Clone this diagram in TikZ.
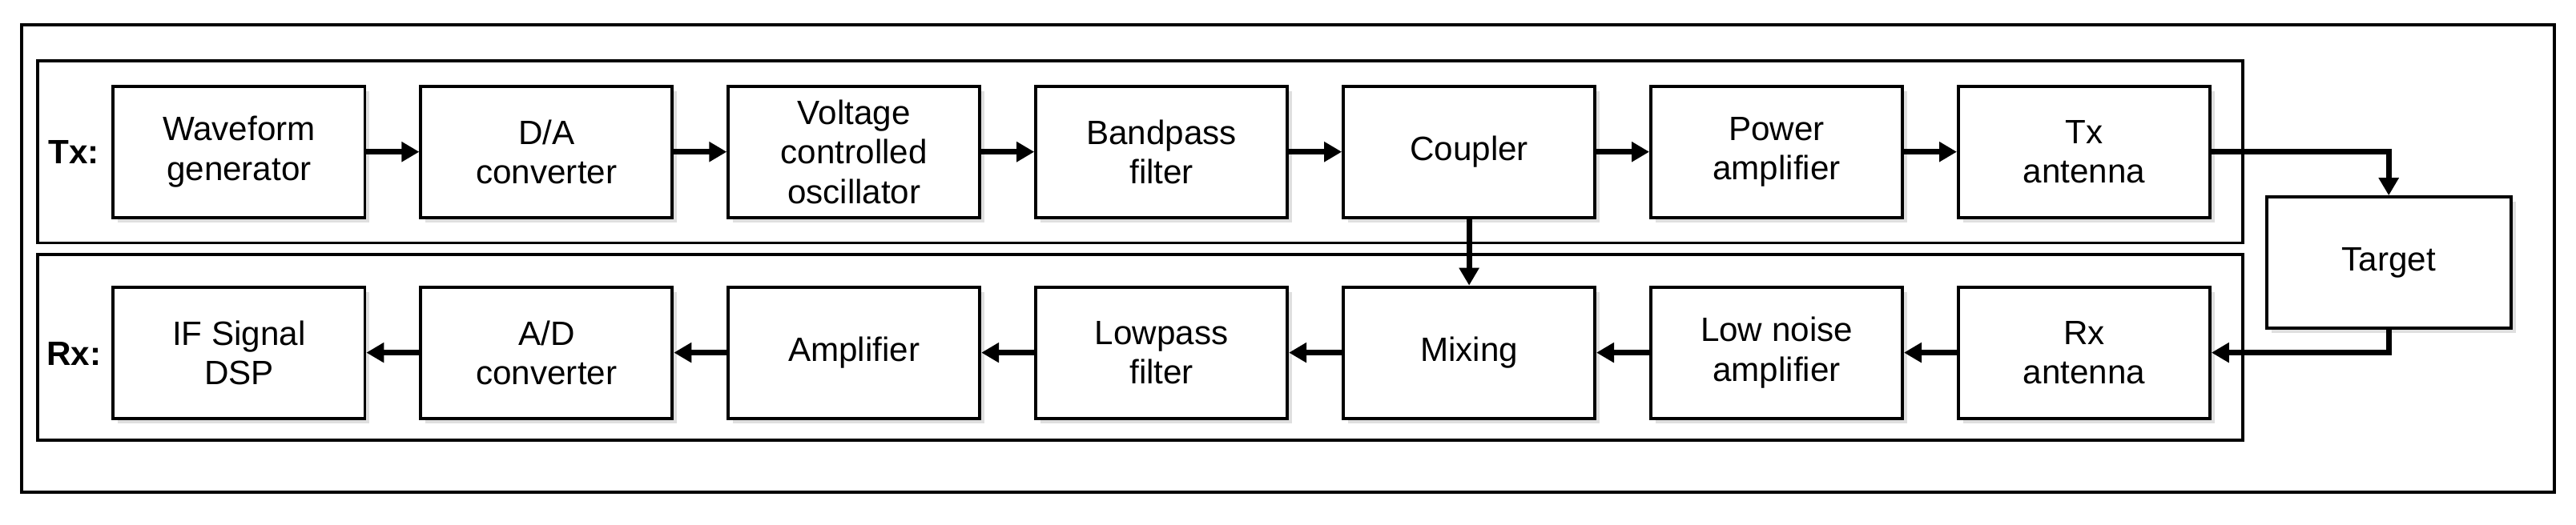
\documentclass[tikz,border=0pt]{standalone}
\usepackage{fontspec}
\setmainfont{Liberation Sans}
\usetikzlibrary{positioning}
\usetikzlibrary{arrows.meta}
\usetikzlibrary{shadows}

\begin{document}
\begin{tikzpicture}[x=0.02051cm, y=-0.02051cm,
			block/.style={draw, rectangle, line width=1.1pt, minimum width=3.14cm, minimum height=1.64cm, align=center, font=\fontsize{12}{14}\selectfont, fill=white, drop shadow={opacity=0.25, shadow xshift=0.6mm, shadow yshift=-0.6mm}},
			frame/.style={draw, line width=1.1pt},
			label/.style={font=\bfseries\fontsize{12}{14}\selectfont},
			arrow/.style={-{Triangle[length=2.2mm, width=2.4mm]}, line width=2pt}
			]
			\useasboundingbox (0,0) rectangle (1568,319.4);
			% Frames
			\draw[frame] (13,15) rectangle (1555,300);
			\draw[frame] (23,37) rectangle (1365,148);
			\draw[frame] (23,155) rectangle (1365,268);
			\node[label] (txlabel) at (45,92.5) {Tx:};
			\node[label] (rxlabel) at (45,215.5) {Rx:};
			
			% Tx chain
			\node[block] (wave) at (145.5,92.5) {Waveform\\generator};
			\node[block, right=0.66cm of wave] (dac) {D/A\\converter};
			\node[block, right=0.66cm of dac] (vco) {Voltage\\controlled\\oscillator};
			\node[block, right=0.66cm of vco] (bpf) {Bandpass\\filter};
			\node[block, right=0.66cm of bpf] (coupler) {Coupler};
			\node[block, right=0.66cm of coupler] (pa) {Power\\amplifier};
			\node[block, right=0.66cm of pa] (txant) {Tx\\antenna};
			
			% Target
			\node[block, minimum width=3.05cm] (target) at (1454,160) {Target};
			
			% Rx chain
			\node[block, below=0.83cm of wave] (dsp) {IF Signal\\DSP};
			\node[block, below=0.83cm of dac] (adc) {A/D\\converter};
			\node[block, below=0.83cm of vco] (amp) {Amplifier};
			\node[block, below=0.83cm of bpf] (lpf) {Lowpass\\filter};
			\node[block, below=0.83cm of coupler] (mix) {Mixing};
			\node[block, below=0.83cm of pa] (lna) {Low noise\\amplifier};
			\node[block, below=0.83cm of txant] (rxant) {Rx\\antenna};
			
			% Arrows
			\draw[arrow] (wave) -- (dac);
			\draw[arrow] (dac) -- (vco);
			\draw[arrow] (vco) -- (bpf);
			\draw[arrow] (bpf) -- (coupler);
			\draw[arrow] (coupler) -- (pa);
			\draw[arrow] (pa) -- (txant);
			\draw[arrow] (txant.east) -| (target.north);
			\draw[arrow] (target.south) |- (rxant.east);
			\draw[arrow] (coupler) -- (mix);
			\draw[arrow] (rxant) -- (lna);
			\draw[arrow] (lna) -- (mix);
			\draw[arrow] (mix) -- (lpf);
			\draw[arrow] (lpf) -- (amp);
			\draw[arrow] (amp) -- (adc);
			\draw[arrow] (adc) -- (dsp);
		\end{tikzpicture}
\end{document}
